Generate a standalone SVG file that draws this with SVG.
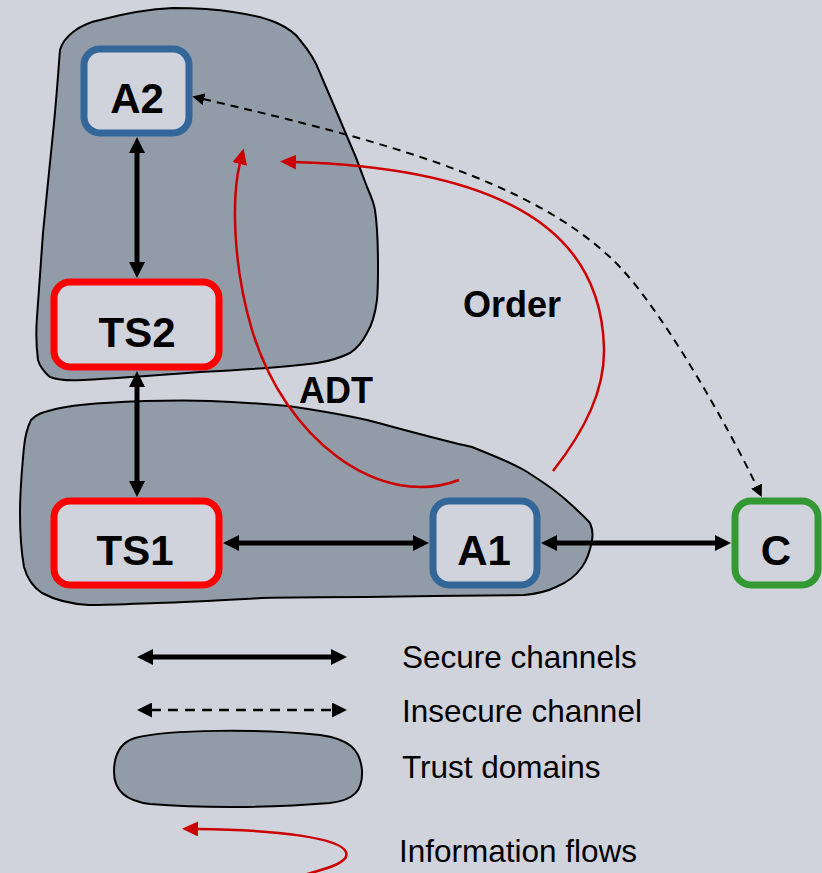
<svg xmlns="http://www.w3.org/2000/svg" width="822" height="873" viewBox="0 0 822 873">
<style>
.domain{fill:#929ca8;stroke:#000;stroke-width:2}
.node{fill:#d0d3db;stroke-width:7}
.lbl{font-family:"Liberation Sans",Arial,sans-serif;font-weight:bold;font-size:42px;text-anchor:middle;fill:#000}
.flbl{font-family:"Liberation Sans",Arial,sans-serif;font-weight:bold;font-size:36px;fill:#000}
.leg{font-family:"Liberation Sans",Arial,sans-serif;font-size:31.5px;fill:#000}
.sec{stroke:#000;stroke-width:5;fill:none;marker-start:url(#ah);marker-end:url(#ah)}
.insec{stroke:#000;stroke-width:2;stroke-dasharray:8 6;fill:none;marker-start:url(#dh);marker-end:url(#dh)}
.insec-leg{stroke:#000;stroke-width:2.5;stroke-dasharray:10 7;fill:none;marker-start:url(#dhl);marker-end:url(#dhl)}
.flow{stroke:#cc0000;stroke-width:2.5;fill:none;marker-end:url(#rh)}
</style>
<defs>
<marker id="ah" viewBox="0 -8 16 16" refX="1" refY="0" markerWidth="16" markerHeight="16" markerUnits="userSpaceOnUse" orient="auto-start-reverse">
<path d="M0,-8 L16,0 L0,8 Z" fill="#000"/>
</marker>
<marker id="dh" viewBox="0 -6 12 12" refX="1" refY="0" markerWidth="12" markerHeight="12" markerUnits="userSpaceOnUse" orient="auto-start-reverse">
<path d="M0,-6 L12,0 L0,6 Z" fill="#000"/>
</marker>
<marker id="dhl" viewBox="0 -7.5 15 15" refX="1" refY="0" markerWidth="15" markerHeight="15" markerUnits="userSpaceOnUse" orient="auto-start-reverse">
<path d="M0,-7.5 L15,0 L0,7.5 Z" fill="#000"/>
</marker>
<marker id="rh" viewBox="0 -7.5 16 15" refX="1" refY="0" markerWidth="16" markerHeight="15" markerUnits="userSpaceOnUse" orient="auto">
<path d="M0,-7.5 L16,0 L0,7.5 Z" fill="#cc0000"/>
</marker>
</defs>
<rect x="0" y="0" width="822" height="873" fill="#d0d3db"/>
<g id="domain-top">
<path class="domain" d="M60,50 C64,36 80,24 100,20 C130,12 150,9 173,8 C200,8 215,9 233,12 C255,15 268,19 277,23 C290,29 296,34 300,40 C310,52 316,62 320,73 C328,92 336,110 343,127 C352,147 360,167 367,187 C371,196 374,203 375,210 C378,230 378,250 378,267 C378,280 378,290 377,300 C375,315 372,325 367,333 C362,343 356,349 350,353 C340,358 330,361 317,363 C280,368 240,370 200,372 C160,375 120,378 83,380 C68,381 58,380 50,377 C44,372 40,367 38,360 C36,345 36,330 37,317 C39,290 41,260 43,233 C46,200 50,165 53,133 C56,105 58,75 60,50 Z"/>
</g>
<g id="domain-bottom">
<path class="domain" d="M52,410 C70,405 88,404 105,403 C140,401 175,400 210,401 C240,402 265,404 288,406 C315,410 340,414 367,420 C405,430 440,440 472,447 C492,455 510,462 524,470 C540,480 555,490 566,500 C577,510 585,517 590,523 C593,530 593,535 592,540 C590,552 587,560 582,567 C575,577 566,583 556,587 C546,592 535,594 524,595 C470,596 420,596 367,597 C330,597 295,597 262,598 C225,600 190,602 157,603 C130,604 108,605 89,605 C70,604 55,600 42,593 C33,587 27,578 24,567 C21,550 20,530 20,513 C20,490 22,468 24,447 C25,437 27,428 31,420 C36,414 44,412 52,410 Z"/>
</g>
<g id="connectors">
<line class="sec" x1="137" y1="152" x2="137" y2="263"/>
<line class="sec" x1="137" y1="386" x2="137" y2="482"/>
<line class="sec" x1="238" y1="543" x2="414" y2="543"/>
<line class="sec" x1="556" y1="543" x2="716" y2="543"/>
<path class="insec" d="M203,99 C380,140 530,180 613,260 C660,305 730,430 757,487"/>
<path class="flow" d="M459,480 C380,510 285,440 252,330 C232,263 232,195 240,163"/>
<path class="flow" d="M553,471 C585,430 605,390 604,348 C602,270 560,170 295,162"/>
</g>
<g id="label-adt"><text class="flbl" x="299" y="403">ADT</text></g>
<g id="label-order"><text class="flbl" x="463" y="317">Order</text></g>
<g id="node-a2">
<rect class="node" x="84" y="49" width="105" height="84" rx="16" stroke="#336699"/>
<text class="lbl" x="137" y="113">A2</text>
</g>
<g id="node-ts2">
<rect class="node" x="54" y="282" width="165" height="85" rx="16" stroke="#ff0000"/>
<text class="lbl" x="137" y="347">TS2</text>
</g>
<g id="node-ts1">
<rect class="node" x="54" y="501" width="165" height="84" rx="16" stroke="#ff0000"/>
<text class="lbl" x="135" y="565">TS1</text>
</g>
<g id="node-a1">
<rect class="node" x="433" y="501" width="104" height="84" rx="16" stroke="#336699"/>
<text class="lbl" x="484" y="565">A1</text>
</g>
<g id="node-c">
<rect class="node" x="735" y="501" width="83" height="84" rx="16" stroke="#339933"/>
<text class="lbl" x="776" y="565">C</text>
</g>
<g id="legend">
<line class="sec" x1="152" y1="657" x2="332" y2="657"/>
<text class="leg" x="402" y="668">Secure channels</text>
<line class="insec-leg" x1="151" y1="710" x2="333" y2="710"/>
<text class="leg" x="402" y="722">Insecure channel</text>
<path class="domain" d="M135,738 C170,729 260,729 320,735 C350,739 360,750 362,770 C363,790 355,800 330,803 C270,808 200,808 150,804 C125,801 114,790 114,772 C114,752 122,742 135,738 Z"/>
<text class="leg" x="402" y="778">Trust domains</text>
<path class="flow" d="M300,876 C330,868 350,862 346,852 C340,838 280,830 197,829"/>
<text class="leg" x="399" y="862">Information flows</text>
</g>
</svg>
